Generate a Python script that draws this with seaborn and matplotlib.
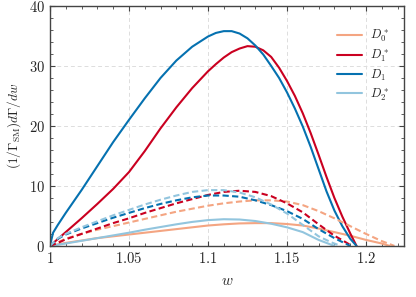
import numpy as np
import pandas as pd
import matplotlib
matplotlib.use("Agg")
import matplotlib.pyplot as plt
from matplotlib.ticker import MultipleLocator, FuncFormatter
import seaborn as sns

# solid curves
w_d1 = [1.0, 1.002, 1.005, 1.01, 1.02, 1.03, 1.04, 1.05, 1.06, 1.07, 1.08, 1.09, 1.10, 1.105, 1.11,
        1.115, 1.12, 1.125, 1.13, 1.135, 1.14, 1.145, 1.15, 1.155, 1.16, 1.165, 1.17, 1.175,
        1.18, 1.185, 1.19, 1.194]
v_d1 = [0.0, 2.2, 3.5, 5.5, 9.3, 13.3, 17.3, 21.0, 24.6, 28.0, 30.9, 33.2, 34.9, 35.5, 35.8,
        35.8, 35.4, 34.6, 33.4, 31.9, 30.0, 28.0, 25.6, 22.9, 19.9, 16.5, 12.8, 9.1,
        5.9, 3.3, 1.2, 0.0]

w_d1s = [1.0, 1.01, 1.02, 1.03, 1.04, 1.05, 1.06, 1.07, 1.08, 1.09, 1.10, 1.105, 1.11, 1.115,
         1.12, 1.125, 1.13, 1.135, 1.14, 1.145, 1.15, 1.155, 1.16, 1.165, 1.17, 1.175, 1.18,
         1.185, 1.19, 1.194]
v_d1s = [0.0, 2.3, 4.6, 7.0, 9.5, 12.3, 15.8, 19.6, 23.1, 26.3, 29.1, 30.3, 31.4, 32.3,
         32.9, 33.3, 33.2, 32.6, 31.5, 29.7, 27.5, 25.0, 22.1, 18.8, 15.2, 11.5, 8.0,
         4.9, 2.1, 0.0]

w_d0s = [1.0, 1.01, 1.02, 1.03, 1.04, 1.05, 1.06, 1.07, 1.08, 1.09, 1.10, 1.11, 1.12, 1.13,
         1.14, 1.15, 1.16, 1.17, 1.18, 1.19, 1.20, 1.21, 1.215]
v_d0s = [0.0, 0.5, 0.9, 1.3, 1.6, 1.9, 2.2, 2.5, 2.8, 3.1, 3.4, 3.6, 3.75, 3.8,
         3.8, 3.65, 3.4, 2.9, 2.3, 1.7, 1.0, 0.4, 0.0]

w_d2s = [1.0, 1.01, 1.02, 1.03, 1.04, 1.05, 1.06, 1.07, 1.08, 1.09, 1.10, 1.11, 1.12, 1.13,
         1.14, 1.15, 1.16, 1.17, 1.175, 1.18]
v_d2s = [0.0, 0.4, 0.85, 1.3, 1.75, 2.2, 2.7, 3.15, 3.6, 4.0, 4.3, 4.45, 4.4, 4.15,
         3.7, 3.1, 2.3, 1.0, 0.5, 0.0]

# dashed curves
wd_d2s = [1.0, 1.005, 1.01, 1.02, 1.03, 1.04, 1.05, 1.06, 1.07, 1.08, 1.09, 1.10, 1.11, 1.12,
          1.13, 1.14, 1.15, 1.16, 1.17, 1.178, 1.184]
vd_d2s = [0.0, 1.3, 2.0, 3.1, 4.1, 5.1, 6.0, 6.9, 7.7, 8.4, 9.0, 9.3, 9.3, 8.9,
          8.1, 6.9, 5.4, 3.5, 1.6, 0.6, 0.0]

wd_d1 = [1.0, 1.005, 1.01, 1.02, 1.03, 1.04, 1.05, 1.06, 1.07, 1.08, 1.09, 1.10, 1.11, 1.12,
         1.13, 1.14, 1.15, 1.16, 1.17, 1.18, 1.19]
vd_d1 = [0.0, 1.2, 1.9, 2.9, 3.8, 4.7, 5.5, 6.3, 7.0, 7.6, 8.1, 8.4, 8.4, 8.2,
         7.6, 6.8, 5.8, 4.5, 2.8, 1.3, 0.0]

wd_d1s = [1.0, 1.005, 1.01, 1.02, 1.03, 1.04, 1.05, 1.06, 1.07, 1.08, 1.09, 1.10, 1.11, 1.12,
          1.13, 1.14, 1.15, 1.16, 1.17, 1.18, 1.186, 1.191]
vd_d1s = [0.0, 0.5, 1.1, 2.0, 2.9, 3.8, 4.6, 5.5, 6.3, 7.1, 7.8, 8.5, 9.0, 9.2,
          9.0, 8.3, 7.1, 5.6, 3.6, 1.7, 0.8, 0.0]

wd_d0s = [1.0, 1.01, 1.02, 1.03, 1.04, 1.05, 1.06, 1.07, 1.08, 1.09, 1.10, 1.11, 1.12, 1.13,
          1.14, 1.15, 1.16, 1.17, 1.18, 1.19, 1.20, 1.21, 1.218]
vd_d0s = [0.0, 1.2, 2.0, 2.7, 3.3, 3.9, 4.5, 5.1, 5.7, 6.2, 6.7, 7.1, 7.4, 7.6,
          7.6, 7.4, 6.8, 5.8, 4.6, 3.3, 2.0, 0.8, 0.0]

labels = [r"$D_0^*$", r"$D_1^*$", r"$D_1$", r"$D_2^*$"]
colors = ["#f4a582", "#ca0020", "#0571b0", "#92c5de"]

sns.set_style("ticks")
plt.rcParams["font.family"] = ["DejaVu Serif"]
plt.rcParams["mathtext.fontset"] = "cm"

fig = plt.figure(figsize=(4.16, 2.97), dpi=100)
ax = fig.add_axes([0.120, 0.172, 0.851, 0.808])

solid = [(w_d0s, v_d0s), (w_d1s, v_d1s), (w_d1, v_d1), (w_d2s, v_d2s)]
dashed = [(wd_d0s, vd_d0s), (wd_d1s, vd_d1s), (wd_d1, vd_d1), (wd_d2s, vd_d2s)]

for (w, v), c, lab in zip(solid, colors, labels):
    sns.lineplot(x=w, y=v, color=c, label=lab, lw=1.5, ax=ax)
for (w, v), c in zip(dashed, colors):
    sns.lineplot(x=w, y=v, color=c, lw=1.5, ax=ax, linestyle=(0, (3, 1.6)))

ax.set_xlim(1, 1.224)
ax.set_ylim(0, 40)
ax.xaxis.set_major_locator(MultipleLocator(0.05))
ax.xaxis.set_minor_locator(MultipleLocator(0.01))
ax.yaxis.set_major_locator(MultipleLocator(10))
ax.yaxis.set_minor_locator(MultipleLocator(2))
ax.xaxis.set_major_formatter(FuncFormatter(lambda x, p: f"${x:g}$"))
ax.yaxis.set_major_formatter(FuncFormatter(lambda x, p: f"${x:g}$"))
ax.tick_params(which="both", direction="in", top=True, right=True, labelsize=10.5, color="#444444")
ax.tick_params(which="major", length=3.5, width=0.8)
ax.tick_params(which="minor", length=2, width=0.6)
ax.grid(True, which="major", ls=(0, (4, 3)), color="#dddddd", lw=0.7)
for s in ax.spines.values():
    s.set_color("#444444")
    s.set_linewidth(1.0)

ax.set_xlabel(r"$w$", fontsize=11, labelpad=6)
ax.set_ylabel(r"$(1/\Gamma_{\rm SM})d\Gamma/dw$", fontsize=9.5, labelpad=4)

ax.legend(loc="upper right", frameon=False, fontsize=9, handlelength=2.0,
          bbox_to_anchor=(0.99, 0.955), labelspacing=0.3, handletextpad=0.6)

plt.savefig("out.png", dpi=100)
